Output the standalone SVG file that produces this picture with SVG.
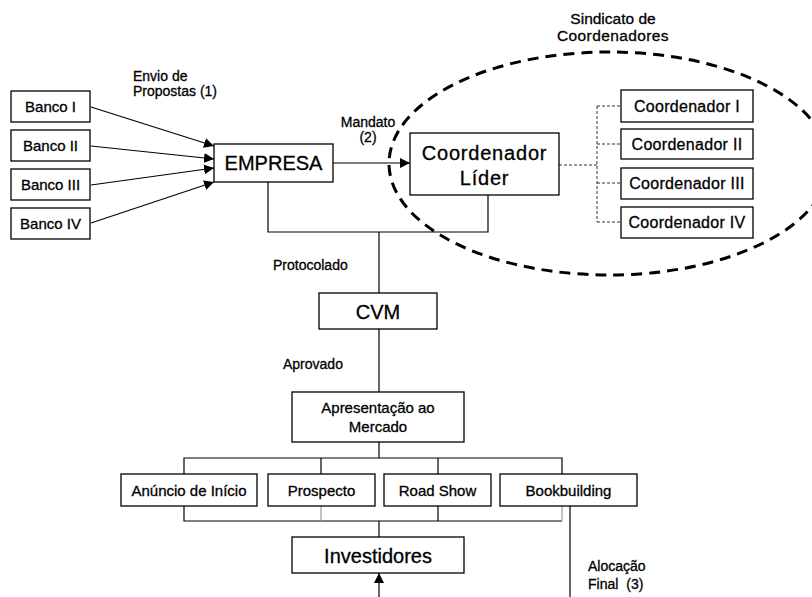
<svg xmlns="http://www.w3.org/2000/svg" width="812" height="597" viewBox="0 0 812 597">
<style>
  .box{fill:#fff;stroke:#000;stroke-width:1.3}
  .t{font-family:"Liberation Sans",Arial,sans-serif;fill:#000;stroke:#000;stroke-width:0.3;text-anchor:middle}
  .s15{font-size:15px}
  .s16{font-size:16px}
  .s20{font-size:20px}
  .lbl{font-family:"Liberation Sans",Arial,sans-serif;fill:#000;stroke:#000;stroke-width:0.3;font-size:14px}
  .ln{fill:none;stroke:#000;stroke-width:1.2}
  .gray{fill:none;stroke:#9a9a9a;stroke-width:1.2}
  .dash{fill:none;stroke:#333;stroke-width:1;stroke-dasharray:3 2}
  .ell{fill:none;stroke:#000;stroke-width:3;stroke-dasharray:11 7}
</style>
<defs>
  <marker id="ah" viewBox="0 0 10 10" refX="10" refY="5" markerWidth="10" markerHeight="10" markerUnits="userSpaceOnUse" orient="auto">
    <path d="M0,0 L10,5 L0,10 z" fill="#000"/>
  </marker>
</defs>
<rect width="812" height="597" fill="#fff"/>

<ellipse id="sindicato" class="ell" cx="609" cy="163.5" rx="220" ry="111.5"/>

<g id="connectors">
  <line class="ln" x1="91" y1="107" x2="214" y2="146" marker-end="url(#ah)"/>
  <line class="ln" x1="91" y1="146" x2="214" y2="159" marker-end="url(#ah)"/>
  <line class="ln" x1="91" y1="185" x2="214" y2="168" marker-end="url(#ah)"/>
  <line class="ln" x1="91" y1="223" x2="214" y2="182" marker-end="url(#ah)"/>
  <line class="ln" x1="333" y1="163" x2="410" y2="163" marker-end="url(#ah)"/>
  <polyline class="ln" points="268,182 268,232 488,232 488,195"/>
  <line class="ln" x1="379" y1="232" x2="379" y2="293"/>
  <line class="ln" x1="379" y1="329" x2="379" y2="392"/>
  <line class="ln" x1="379" y1="442" x2="379" y2="458"/>
  <polyline class="ln" points="184,474 184,458 562,458 562,474"/>
  <line class="ln" x1="321" y1="458" x2="321" y2="474"/>
  <line class="ln" x1="438" y1="458" x2="438" y2="474"/>
  <polyline class="ln" points="184,506 184,521 562,521"/>
  <line class="ln" x1="438" y1="506" x2="438" y2="521"/>
  <line class="gray" x1="321" y1="506" x2="321" y2="521"/>
  <line class="gray" x1="562" y1="506" x2="562" y2="521"/>
  <line class="ln" x1="379" y1="521" x2="379" y2="537"/>
  <line class="ln" x1="379" y1="597" x2="379" y2="573" marker-end="url(#ah)"/>
  <line class="ln" x1="570" y1="506" x2="570" y2="597"/>
  <line class="dash" x1="559" y1="165" x2="597" y2="165"/>
  <line class="dash" x1="597" y1="106" x2="597" y2="222"/>
  <line class="dash" x1="597" y1="106" x2="621" y2="106"/>
  <line class="dash" x1="597" y1="144" x2="621" y2="144"/>
  <line class="dash" x1="597" y1="183" x2="621" y2="183"/>
  <line class="dash" x1="597" y1="222" x2="621" y2="222"/>
</g>

<g id="labels">
  <text class="lbl" x="133" y="81">Envio de</text>
  <text class="lbl" x="133" y="96">Propostas (1)</text>
  <text class="lbl" x="368" y="127" text-anchor="middle">Mandato</text>
  <text class="lbl" x="368" y="142" text-anchor="middle">(2)</text>
  <text class="t" x="613" y="24" font-size="15.5">Sindicato de</text>
  <text class="t" x="613" y="41" font-size="15.5" letter-spacing="0.4">Coordenadores</text>
  <text class="lbl" x="273" y="270">Protocolado</text>
  <text class="lbl" x="283" y="369">Aprovado</text>
  <text class="lbl" x="588" y="571" font-size="13.5">Alocação</text>
  <text class="lbl" x="588" y="589" font-size="13.5" word-spacing="4">Final (3)</text>
</g>

<g id="banco1"><rect class="box" x="11" y="91" width="79" height="31"/><text class="t s15" x="50.5" y="112">Banco I</text></g>
<g id="banco2"><rect class="box" x="11" y="130" width="79" height="31"/><text class="t s15" x="50.5" y="151">Banco II</text></g>
<g id="banco3"><rect class="box" x="11" y="169" width="79" height="31"/><text class="t s15" x="50.5" y="190">Banco III</text></g>
<g id="banco4"><rect class="box" x="11" y="208" width="79" height="31"/><text class="t s15" x="50.5" y="229">Banco IV</text></g>

<g id="empresa"><rect class="box" x="214" y="144" width="119" height="38"/><text class="t s20" x="273.5" y="170">EMPRESA</text></g>

<g id="lider"><rect class="box" x="410" y="133" width="149" height="62"/>
  <text class="t s20" x="484.5" y="160" letter-spacing="0.8">Coordenador</text>
  <text class="t s20" x="484.5" y="185" letter-spacing="0.8">Líder</text></g>

<g id="coord1"><rect class="box" x="621" y="90" width="132" height="32"/><text class="t s16" x="687" y="111.5" letter-spacing="0.3">Coordenador I</text></g>
<g id="coord2"><rect class="box" x="621" y="129" width="132" height="30"/><text class="t s16" x="687" y="149.5" letter-spacing="0.3">Coordenador II</text></g>
<g id="coord3"><rect class="box" x="621" y="168" width="132" height="31"/><text class="t s16" x="687" y="189" letter-spacing="0.3">Coordenador III</text></g>
<g id="coord4"><rect class="box" x="621" y="207" width="132" height="31"/><text class="t s16" x="687" y="228" letter-spacing="0.3">Coordenador IV</text></g>

<g id="cvm"><rect class="box" x="319" y="293" width="118" height="36"/><text class="t s20" x="378" y="318.5">CVM</text></g>

<g id="apresentacao"><rect class="box" x="292" y="392" width="172" height="50"/>
  <text class="t s15" x="378" y="412.5">Apresentação ao</text>
  <text class="t s15" x="378" y="432">Mercado</text></g>

<g id="anuncio"><rect class="box" x="121" y="474" width="136" height="32"/><text class="t s15" x="189" y="495.5">Anúncio de Início</text></g>
<g id="prospecto"><rect class="box" x="268" y="474" width="107" height="32"/><text class="t s15" x="321.5" y="495.5">Prospecto</text></g>
<g id="roadshow"><rect class="box" x="384" y="474" width="107" height="32"/><text class="t s15" x="437.5" y="495.5">Road Show</text></g>
<g id="bookbuilding"><rect class="box" x="500" y="474" width="137" height="32"/><text class="t s15" x="568.5" y="495.5">Bookbuilding</text></g>

<g id="investidores"><rect class="box" x="292" y="537" width="172" height="36"/><text class="t s20" x="378" y="562.5">Investidores</text></g>
</svg>
